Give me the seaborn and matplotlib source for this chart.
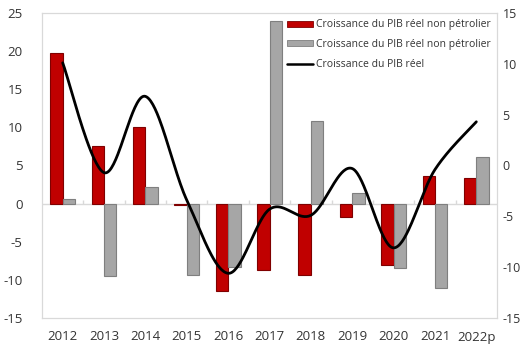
import numpy as np
import pandas as pd
import matplotlib
matplotlib.use("Agg")
import matplotlib.pyplot as plt
from matplotlib.patches import Patch
from matplotlib.lines import Line2D
import seaborn as sns

years = ["2012", "2013", "2014", "2015", "2016", "2017", "2018", "2019", "2020", "2021", "2022p"]
pib_non_petrolier_rouge = [19.8, 7.5, 10.0, -0.2, -11.4, -8.7, -9.4, -1.7, -8.0, 3.6, 3.3]
pib_non_petrolier_gris = [0.6, -9.5, 2.2, -9.3, -8.3, 23.9, 10.9, 1.4, -8.5, -11.1, 6.1]
pib_reel = [10.1, -0.7, 6.8, -3.4, -10.6, -4.3, -4.9, -0.3, -8.1, -0.4, 4.3]

legend_labels = [
    "Croissance du PIB réel non pétrolier",
    "Croissance du PIB réel non pétrolier",
    "Croissance du PIB réel",
]

RED = "#C00000"
GREY = "#A6A6A6"
FRAME = "#D9D9D9"
TEXT = "#333333"

sns.set_theme(style="white")
plt.rcParams["font.family"] = ["Open Sans", "DejaVu Sans"]
plt.rcParams["axes.unicode_minus"] = False

df = pd.DataFrame({
    "annee": years * 2,
    "serie": ["a"] * len(years) + ["b"] * len(years),
    "valeur": pib_non_petrolier_rouge + pib_non_petrolier_gris,
})

fig = plt.figure(figsize=(5.24, 3.44), dpi=100)
ax = fig.add_axes([42 / 524, 1 - 318 / 344, 455 / 524, 305 / 344])

sns.barplot(data=df, x="annee", y="valeur", hue="serie", palette=[RED, GREY],
            width=0.6, saturation=1, legend=False, ax=ax, zorder=2)
for p in ax.patches:
    fc = p.get_facecolor()
    p.set_edgecolor("#7F0000" if fc[0] > 0.6 and fc[1] < 0.3 else "#7F7F7F")
    p.set_linewidth(0.8)

ax.set_xlim(-0.5, len(years) - 0.5)
ax.set_ylim(-15, 25)
ax.set_yticks(np.arange(-15, 26, 5))
ax.set_xlabel("")
ax.set_ylabel("")

# horizontal axis drawn through zero, with small ticks between categories
ax.axhline(0, color=FRAME, lw=1.0, zorder=1)
ax.vlines(np.arange(len(years) - 1) + 0.5, 0, 0.45, color=FRAME, lw=1.0, zorder=1)

for s in ax.spines.values():
    s.set_color(FRAME)
    s.set_linewidth(0.9)
ax.tick_params(axis="both", length=0, labelsize=9.5, colors=TEXT)
ax.tick_params(axis="y", pad=14)
ax.tick_params(axis="x", pad=9)

# real GDP growth on the secondary axis, smoothed with Catmull-Rom segments
ax2 = ax.twinx()
xp = np.arange(len(pib_reel), dtype=float)
yp = np.array(pib_reel, dtype=float)
px = np.concatenate([[xp[0]], xp, [xp[-1]]])
py = np.concatenate([[yp[0]], yp, [yp[-1]]])
cx, cy = [], []
t = np.linspace(0, 1, 40)
for i in range(1, len(px) - 2):
    p0, p1, p2, p3 = (np.array([px[j], py[j]]) for j in (i - 1, i, i + 1, i + 2))
    c1 = p1 + (p2 - p0) / 6
    c2 = p2 - (p3 - p1) / 6
    b = ((1 - t) ** 3)[:, None] * p1 + (3 * (1 - t) ** 2 * t)[:, None] * c1 \
        + (3 * (1 - t) * t ** 2)[:, None] * c2 + (t ** 3)[:, None] * p2
    cx.extend(b[:, 0]); cy.extend(b[:, 1])
sns.lineplot(x=cx, y=cy, ax=ax2, color="black", lw=2.0, sort=False, zorder=3)

ax2.set_ylim(-15, 15)
ax2.set_yticks(np.arange(-15, 16, 5))
ax2.tick_params(axis="y", length=0, labelsize=9, colors=TEXT, pad=4)
for s in ax2.spines.values():
    s.set_visible(False)

handles = [
    Patch(facecolor=RED, edgecolor="#7F0000", lw=0.6),
    Patch(facecolor=GREY, edgecolor="#7F7F7F", lw=0.6),
    Line2D([0], [0], color="black", lw=1.8),
]
ax2.legend(handles, legend_labels, loc="upper left", bbox_to_anchor=(0.525, 1.0),
           frameon=False, fontsize=7.5, handlelength=2.5, handleheight=0.5,
           handletextpad=0.3, labelspacing=0.85, borderaxespad=0.2,
           labelcolor=TEXT)

fig.savefig("out.png", dpi=100)
